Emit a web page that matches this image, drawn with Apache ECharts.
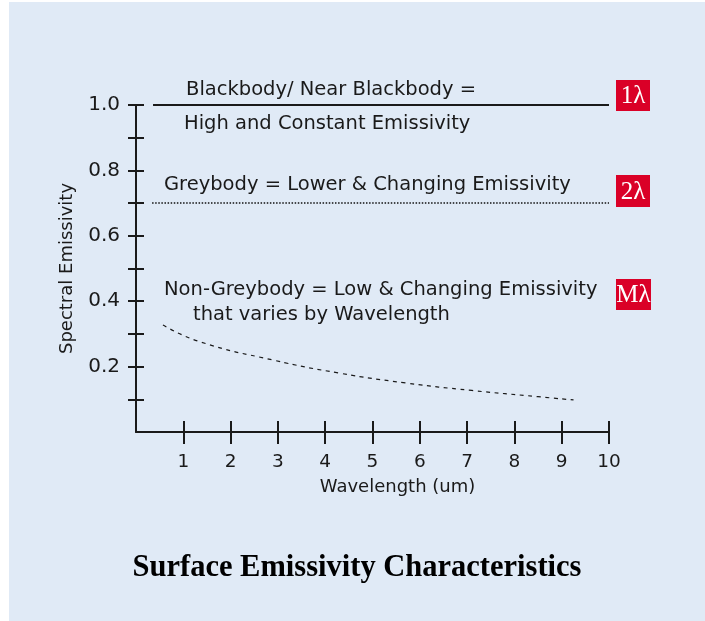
<!DOCTYPE html>
<html>
<head>
<meta charset="utf-8">
<script src="https://cdn.jsdelivr.net/npm/echarts@6/dist/echarts.min.js"></script>
<style>
html,body{margin:0;padding:0;background:#ffffff;}
#chart{width:705px;height:621px;}
</style>
</head>
<body>
<div id="chart"></div>
<script>
// ---- data ----
const xTickValues = [1, 2, 3, 4, 5, 6, 7, 8, 9, 10];
const yLabelValues = [0.2, 0.4, 0.6, 0.8, 1.0];
const yTickValues = [0.1, 0.2, 0.3, 0.4, 0.5, 0.6, 0.7, 0.8, 0.9, 1.0];

const blackbodyWavelength = [0.36, 10];
const blackbodyEmissivity = [1.0, 1.0];

const greybodyWavelength = [0.34, 10];
const greybodyEmissivity = [0.7, 0.7];

const nonGreyWavelength = [0.57, 1.35, 2.9, 4.3, 5.7, 7.1, 8.5, 9.25];
const nonGreyEmissivity = [0.327, 0.276, 0.220, 0.180, 0.150, 0.127, 0.108, 0.098];

const annotationTexts = [
  'Blackbody/ Near Blackbody =',
  'High and Constant Emissivity',
  'Greybody = Lower & Changing Emissivity',
  'Non-Greybody = Low & Changing Emissivity',
  'that varies by Wavelength'
];
const badgeTexts = ['1λ', '2λ', 'Mλ'];
const titleText = 'Surface Emissivity Characteristics';

// ---- chart ----
const zip = (xs, ys) => xs.map((x, i) => [x, ys[i]]);
const FONT = '"DejaVu Sans", "Open Sans", sans-serif';
const INK = '#1a1a1a';
const chart = echarts.init(document.getElementById('chart'), null, {renderer: 'canvas'});

const textStyleBase = {fontFamily: FONT, fontSize: 19.5, fill: INK};
const badgeRects = [
  {x: 616, y: 80, w: 34, h: 31},
  {x: 616, y: 175, w: 34, h: 32},
  {x: 616, y: 279, w: 35, h: 31}
];

const graphic = [
  {type: 'rect', z: -10, shape: {x: 9, y: 2, width: 700, height: 625}, style: {fill: '#e0eaf6'}},
  {type: 'text', x: 186, y: 90, style: Object.assign({text: annotationTexts[0], textVerticalAlign: 'middle'}, textStyleBase)},
  {type: 'text', x: 184, y: 124, style: Object.assign({text: annotationTexts[1], textVerticalAlign: 'middle'}, textStyleBase)},
  {type: 'text', x: 164, y: 185, style: Object.assign({text: annotationTexts[2], textVerticalAlign: 'middle'}, textStyleBase)},
  {type: 'text', x: 164, y: 290, style: Object.assign({text: annotationTexts[3], textVerticalAlign: 'middle'}, textStyleBase)},
  {type: 'text', x: 193, y: 315, style: Object.assign({text: annotationTexts[4], textVerticalAlign: 'middle'}, textStyleBase)},
  {type: 'text', x: 357, y: 568, style: {text: titleText, fontFamily: '"Liberation Serif", "Times New Roman", serif', fontWeight: 'bold', fontSize: 30.5, fill: '#000', textAlign: 'center', textVerticalAlign: 'middle'}}
];
badgeTexts.forEach((t, i) => {
  const r = badgeRects[i];
  graphic.push({type: 'rect', shape: {x: r.x, y: r.y, width: r.w, height: r.h}, style: {fill: '#da0027'}});
  graphic.push({type: 'text', x: r.x + r.w / 2, y: r.y + r.h / 2 + 1, style: {text: t, fontFamily: '"Liberation Serif", serif', fontSize: 25, fill: '#fff', textAlign: 'center', textVerticalAlign: 'middle'}});
});

const axisLineStyle = {color: INK, width: 2};
const option = {
  backgroundColor: '#ffffff',
  animation: false,
  grid: {left: 136, right: 96, top: 105, bottom: 189, containLabel: false},
  xAxis: [
    {
      type: 'value', position: 'bottom', min: 0, max: 10, interval: 1,
      name: 'Wavelength (um)', nameLocation: 'middle', nameGap: 46,
      nameTextStyle: {fontFamily: FONT, fontSize: 18, color: INK, padding: [0, 0, 0, 50]},
      axisLine: {show: true, lineStyle: axisLineStyle},
      axisTick: {show: true, inside: false, length: 12, customValues: xTickValues, lineStyle: {color: INK, width: 2}},
      axisLabel: {show: true, margin: 21, customValues: xTickValues, fontFamily: FONT, fontSize: 18.5, color: INK},
      splitLine: {show: false}
    },
    {
      type: 'value', position: 'bottom', min: 0, max: 10, interval: 1,
      axisLine: {show: false},
      axisTick: {show: true, inside: true, length: 11, customValues: xTickValues, lineStyle: {color: INK, width: 2}},
      axisLabel: {show: false},
      splitLine: {show: false}
    }
  ],
  yAxis: [
    {
      type: 'value', position: 'left', min: 0, max: 1, interval: 0.1,
      name: 'Spectral Emissivity', nameLocation: 'middle', nameGap: 60, nameRotate: 90,
      nameTextStyle: {fontFamily: FONT, fontSize: 18, color: INK},
      axisLine: {show: true, lineStyle: axisLineStyle},
      axisTick: {show: true, inside: false, length: 8, customValues: yTickValues, lineStyle: {color: INK, width: 2}},
      axisLabel: {show: true, margin: 16, customValues: yLabelValues, formatter: v => v.toFixed(1), fontFamily: FONT, fontSize: 20, color: INK},
      splitLine: {show: false}
    },
    {
      type: 'value', position: 'left', offset: 0, min: 0, max: 1, interval: 0.1,
      axisLine: {show: false},
      axisTick: {show: true, inside: true, length: 8, customValues: yTickValues, lineStyle: {color: INK, width: 2}},
      axisLabel: {show: false},
      splitLine: {show: false}
    }
  ],
  series: [
    {
      type: 'line', name: 'Blackbody', data: zip(blackbodyWavelength, blackbodyEmissivity),
      symbol: 'none', clip: false, lineStyle: {color: INK, width: 2, type: 'solid'}
    },
    {
      type: 'line', name: 'Greybody', data: zip(greybodyWavelength, greybodyEmissivity),
      symbol: 'none', clip: false, lineStyle: {color: '#111', width: 1.5, type: [1.5, 1.6]}
    },
    {
      type: 'line', name: 'Non-Greybody', data: zip(nonGreyWavelength, nonGreyEmissivity),
      symbol: 'none', smooth: true, clip: false, lineStyle: {color: INK, width: 1.2, type: [4, 4.5]}
    }
  ],
  graphic: graphic
};
chart.setOption(option);
</script>
</body>
</html>
